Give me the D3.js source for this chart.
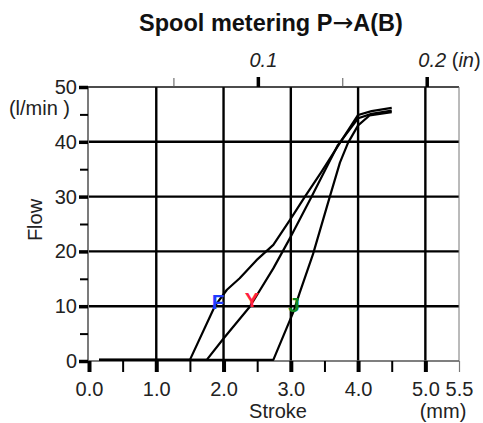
<!DOCTYPE html>
<html>
<head>
<meta charset="utf-8">
<script src="https://cdn.jsdelivr.net/npm/d3@7"></script>
<style>
  body { margin: 0; background: #fff; }
  svg { display: block; }
</style>
</head>
<body>
<div id="chart"></div>
<script>
// stroke values (mm) and flow (l/min)
var fStroke = [0.15, 1.5, 1.87, 2.05, 2.24, 2.49, 2.74, 3.0, 3.21, 3.46, 3.73, 4.0, 4.2, 4.5];
var fFlow   = [0.2, 0.2, 10, 13, 15.1, 18.4, 21.2, 26.0, 30, 34.6, 39.8, 44.9, 45.6, 46.2];

var yStroke = [0.15, 1.75, 2.0, 2.39, 2.74, 3.0, 3.31, 3.7, 4.0, 4.2, 4.5];
var yFlow   = [0.2, 0.2, 4.1, 9.9, 16.9, 22.7, 30, 39.4, 44.3, 45.1, 45.7];

var jStroke = [0.15, 2.74, 3.04, 3.13, 3.33, 3.58, 3.73, 3.85, 4.0, 4.17, 4.5];
var jFlow   = [0.2, 0.2, 9, 12.4, 19.5, 30, 36.2, 39.8, 43, 44.8, 45.4];

var curveLabels = ["F", "Y", "J"];
var labelStroke = [1.92, 2.42, 3.05];
var labelFlow   = [10.8, 11.3, 10.4];
var labelColors = ["#1f3cff", "#ff2040", "#11881f"];

var mmMajor = [0, 1, 2, 3, 4, 5, 5.5];
var mmMinor = [0.5, 1.5, 2.5, 3.5, 4.5];
var flowMajor = [0, 10, 20, 30, 40, 50];
var flowMinor = [5, 15, 25, 35, 45];
var inMajor = [0.1, 0.2];
var inMinor = [0.05, 0.15];

var width = 483, height = 423;
var font = "'Liberation Sans', Arial, sans-serif";
var ink = "#222";

var svg = d3.select("#chart")
    .append("svg")
    .attr("width", width)
    .attr("height", height)
    .style("font-family", font);

var x = d3.scaleLinear().domain([0, 5.5]).range([89, 459]);
var y = d3.scaleLinear().domain([0, 50]).range([361, 87]);
// the inch ruler on top is drawn slightly short in the original
var xIn = d3.scaleLinear().domain([0, 0.2]).range([x(0), x(5.02)]);

// title
var title = svg.append("text")
    .attr("x", 271).attr("y", 31)
    .attr("text-anchor", "middle")
    .style("font-weight", "bold")
    .style("font-size", "23.5px")
    .attr("fill", "#111");
title.append("tspan").text("Spool metering P");
title.append("tspan")
    .style("font-family", "'DejaVu Sans', sans-serif")
    .style("font-weight", "normal")
    .style("font-size", "25px")
    .text("\u2192");
title.append("tspan").text("A(B)");

// grid
svg.append("g").selectAll("line")
    .data([10, 20, 30, 40])
    .enter().append("line")
    .attr("x1", x(0)).attr("x2", x(5.5))
    .attr("y1", function(d) { return y(d) })
    .attr("y2", function(d) { return y(d) })
    .attr("stroke", "#000").attr("stroke-width", 2.4);

svg.append("g").selectAll("line")
    .data([1, 2, 3, 4, 5])
    .enter().append("line")
    .attr("y1", y(0)).attr("y2", y(50))
    .attr("x1", function(d) { return x(d) })
    .attr("x2", function(d) { return x(d) })
    .attr("stroke", "#000").attr("stroke-width", 2.4);

// frame
svg.append("line").attr("x1", x(0) - 1).attr("x2", x(5.5)).attr("y1", y(50)).attr("y2", y(50))
    .attr("stroke", "#111").attr("stroke-width", 1.5);
svg.append("line").attr("x1", x(5.5)).attr("x2", x(5.5)).attr("y1", y(50)).attr("y2", y(0))
    .attr("stroke", "#777").attr("stroke-width", 1);
svg.append("line").attr("x1", x(0) - 1).attr("x2", x(0) - 1).attr("y1", y(50)).attr("y2", y(0))
    .attr("stroke", "#333").attr("stroke-width", 1.3);
svg.append("line").attr("x1", x(0) - 1).attr("x2", x(5.5)).attr("y1", y(0)).attr("y2", y(0))
    .attr("stroke", "#555").attr("stroke-width", 1.5);

function styleAxis(g, lineWidth, size) {
    g.select(".domain").remove();
    g.selectAll(".tick line").attr("stroke", "#000").attr("stroke-width", lineWidth);
    g.selectAll(".tick text")
        .attr("fill", ink)
        .style("font-family", font)
        .style("font-size", size || "20px");
}

// bottom axis (mm)
svg.append("g")
    .attr("transform", "translate(0," + y(0) + ")")
    .call(d3.axisBottom(x).tickValues(mmMinor).tickFormat("").tickSize(11))
    .call(styleAxis, 2);

svg.append("g")
    .attr("transform", "translate(0," + y(0) + ")")
    .call(d3.axisBottom(x).tickValues(mmMajor).tickFormat(d3.format(".1f")).tickSize(11).tickPadding(10))
    .call(styleAxis, 4)
    .call(function(g) {
        g.selectAll(".tick").filter(function(d) { return d === 5.5 })
            .select("line").attr("stroke", "#777").attr("stroke-width", 1.2);
    });

// left axis (l/min)
svg.append("g")
    .attr("transform", "translate(" + (x(0) - 1) + ",0)")
    .call(d3.axisLeft(y).tickValues(flowMinor).tickFormat("").tickSize(8))
    .call(styleAxis, 2);

svg.append("g")
    .attr("transform", "translate(" + (x(0) - 1) + ",0)")
    .call(d3.axisLeft(y).tickValues(flowMajor).tickSize(9).tickPadding(2))
    .call(styleAxis, 3.5);

// top axis (inch)
svg.append("g")
    .attr("transform", "translate(0," + y(50) + ")")
    .call(d3.axisTop(xIn).tickValues(inMinor).tickFormat("").tickSize(9))
    .call(styleAxis, 1)
    .call(function(g) { g.selectAll(".tick line").attr("stroke", "#555") });

svg.append("g")
    .attr("transform", "translate(0," + y(50) + ")")
    .call(d3.axisTop(xIn).tickValues(inMajor).tickFormat(d3.format(".1f")).tickSize(10).tickPadding(10))
    .call(styleAxis, 3.5)
    .call(function(g) {
        g.selectAll(".tick text").style("font-style", "italic").attr("dx", 5);
    });

var inUnit = svg.append("text")
    .attr("x", xIn(0.2) + 25).attr("y", y(50) - 20)
    .attr("fill", ink).style("font-size", "20px");
inUnit.append("tspan").text("(");
inUnit.append("tspan").style("font-style", "italic").text("in");
inUnit.append("tspan").text(")");

// axis titles
svg.append("text")
    .attr("x", 278).attr("y", 418)
    .attr("text-anchor", "middle")
    .attr("fill", ink).style("font-size", "20px")
    .text("Stroke");

svg.append("text")
    .attr("x", 443).attr("y", 418)
    .attr("text-anchor", "middle")
    .attr("fill", ink).style("font-size", "20px")
    .text("(mm)");

svg.append("text")
    .attr("x", 70).attr("y", 115)
    .attr("text-anchor", "end")
    .attr("fill", ink).style("font-size", "20px")
    .text("(l/min )");

svg.append("text")
    .attr("transform", "translate(42,220) rotate(-90)")
    .attr("text-anchor", "middle")
    .attr("fill", ink).style("font-size", "20px")
    .text("Flow");

// curves
var line = d3.line()
    .x(function(d) { return x(d[0]) })
    .y(function(d) { return y(d[1]) });

var curves = [
    d3.zip(fStroke, fFlow),
    d3.zip(yStroke, yFlow),
    d3.zip(jStroke, jFlow)
];

svg.append("g").selectAll("path")
    .data(curves)
    .enter().append("path")
    .attr("d", line)
    .attr("fill", "none")
    .attr("stroke", "#000")
    .attr("stroke-width", 2.2)
    .attr("stroke-linejoin", "round");

// curve labels
svg.append("g").selectAll("text")
    .data(curveLabels)
    .enter().append("text")
    .attr("x", function(d, i) { return x(labelStroke[i]) })
    .attr("y", function(d, i) { return y(labelFlow[i]) })
    .attr("dy", "0.36em")
    .attr("text-anchor", "middle")
    .attr("fill", function(d, i) { return labelColors[i] })
    .style("font-size", "21px")
    .style("font-weight", "bold")
    .text(function(d) { return d });
</script>
</body>
</html>
